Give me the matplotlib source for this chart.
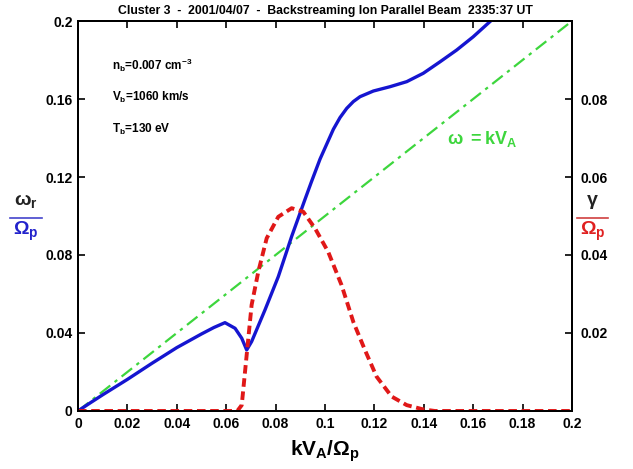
import matplotlib
matplotlib.use('Agg')
import matplotlib.pyplot as plt
from matplotlib.lines import Line2D

plt.rcParams['font.family'] = ['Liberation Sans', 'DejaVu Sans']
plt.rcParams['font.weight'] = 'bold'
plt.rcParams['mathtext.fontset'] = 'custom'
plt.rcParams['mathtext.rm'] = 'Liberation Sans:bold'
plt.rcParams['mathtext.it'] = 'Liberation Sans:bold'
plt.rcParams['mathtext.bf'] = 'Liberation Sans:bold'
plt.rcParams['mathtext.default'] = 'bf'

# real frequency omega_r / Omega_p (left axis)
k_wr = [0.0, 0.005, 0.01, 0.02, 0.03, 0.04, 0.045, 0.05, 0.055, 0.0595, 0.0636, 0.0663,
        0.0683, 0.0703, 0.0757, 0.0811, 0.0865, 0.0919, 0.0945, 0.098, 0.1034, 0.1061,
        0.1088, 0.1115, 0.1142, 0.1196, 0.1263, 0.1331, 0.1398, 0.1466, 0.1533, 0.16, 0.1675]
wr = [0.0, 0.0042, 0.0083, 0.0162, 0.0245, 0.0325, 0.036, 0.0395, 0.0428, 0.0453, 0.0424, 0.0373,
      0.0313, 0.0356, 0.0518, 0.0689, 0.0895, 0.1085, 0.1175, 0.1292, 0.1445, 0.1505,
      0.1552, 0.1587, 0.1612, 0.1641, 0.1663, 0.1689, 0.1732, 0.1791, 0.1851, 0.1919, 0.2005]

# growth rate gamma / Omega_p (right axis)
k_g = [0.0, 0.02, 0.04, 0.06, 0.0645, 0.0663, 0.0683, 0.0703, 0.073, 0.0764, 0.0811, 0.0865,
       0.0912, 0.096, 0.1013, 0.1067, 0.1115, 0.1162, 0.1209, 0.127, 0.1331, 0.1398,
       0.1445, 0.16, 0.18, 0.2]
g = [0.0, 0.0, 0.0, 0.0, 0.0, 0.0015, 0.0144, 0.0272, 0.0357, 0.0443, 0.0498, 0.052,
     0.0511, 0.0468, 0.0408, 0.0323, 0.0228, 0.0156, 0.0088, 0.0037, 0.0015, 0.0004,
     0.0, 0.0, 0.0, 0.0]

k_line = [0.0, 0.2]
w_line = [0.0, 0.2]

x_ticks = [0, 0.02, 0.04, 0.06, 0.08, 0.1, 0.12, 0.14, 0.16, 0.18, 0.2]
x_ticklabels = ['0', '0.02', '0.04', '0.06', '0.08', '0.1', '0.12', '0.14', '0.16', '0.18', '0.2']
yl_ticks = [0, 0.04, 0.08, 0.12, 0.16, 0.2]
yl_ticklabels = ['0', '0.04', '0.08', '0.12', '0.16', '0.2']
yr_ticks = [0.02, 0.04, 0.06, 0.08]
yr_ticklabels = ['0.02', '0.04', '0.06', '0.08']

fig = plt.figure(figsize=(6.33, 4.69), dpi=100)
ax = fig.add_axes([0.1232, 0.1237, 0.7804, 0.8315])
ax2 = ax.twinx()

ax.plot(k_line, w_line, color='#3dd63d', lw=1.6, ls=(0, (6, 2.5, 1.5, 2.5)))
ax.plot(k_wr, wr, color='#1515d0', lw=2.4, solid_capstyle='round', solid_joinstyle='round')
ax2.plot(k_g, g, color='#e01818', lw=2.8, ls=(0, (2.2, 1.2)))

ax.set_xlim(0, 0.2)
ax.set_ylim(0, 0.2)
ax2.set_ylim(0, 0.1)

ax.set_xticks(x_ticks)
ax.set_xticklabels(x_ticklabels)
ax.set_yticks(yl_ticks)
ax.set_yticklabels(yl_ticklabels)
ax2.set_yticks(yr_ticks)
ax2.set_yticklabels(yr_ticklabels)

ax.tick_params(direction='in', top=True, length=5, width=1.2, labelsize=10, pad=4)
ax2.tick_params(direction='in', length=5, width=1.2, labelsize=10, pad=6)
for lab in ax.get_xticklabels() + ax.get_yticklabels() + ax2.get_yticklabels():
    lab.set_fontweight('bold')
for a in (ax, ax2):
    for s in a.spines.values():
        s.set_linewidth(1.4)

ax.set_title('Cluster 3  -  2001/04/07  -  Backstreaming Ion Parallel Beam  2335:37 UT',
             fontsize=8.8, fontweight='bold', pad=5)
ax.set_xlabel(r'$kV_A/\Omega_p$', fontsize=15, labelpad=6)

# parameter annotations
ax.text(0.0138, 0.1774, r'$n_b$=0.007 cm$^{-3}$', fontsize=8.5, va='center')
ax.text(0.0138, 0.161, r'$V_b$=1060 km/s', fontsize=8.5, va='center')
ax.text(0.0138, 0.1446, r'$T_b$=130 eV', fontsize=8.5, va='center')
ax.text(0.1495, 0.1395, r'$\omega\ =kV_A$', fontsize=13, color='#3dd63d', va='center')

# left ylabel fraction
tr = fig.transFigure
fig.text(0.041, 0.572, r'$\omega_r$', fontsize=14, ha='center', va='center', color='#222222')
fig.lines.append(Line2D([0.016, 0.066], [0.536, 0.536], transform=tr, color='#4444cc', lw=1.2))
fig.text(0.041, 0.506, r'$\Omega_p$', fontsize=14, ha='center', va='center', color='#2222cc')

# right ylabel fraction
fig.text(0.936, 0.570, r'$\gamma$', fontsize=14, ha='center', va='center', color='#222222')
fig.lines.append(Line2D([0.911, 0.961], [0.536, 0.536], transform=tr, color='#d04040', lw=1.2))
fig.text(0.936, 0.506, r'$\Omega_p$', fontsize=14, ha='center', va='center', color='#e02020')

fig.savefig('out.png', dpi=100)
